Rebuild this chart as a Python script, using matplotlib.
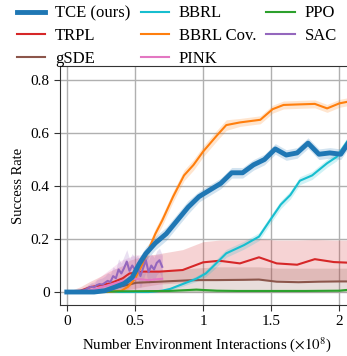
import matplotlib
matplotlib.use("Agg")
import matplotlib.pyplot as plt
import numpy as np

# fonts: Times-like text
plt.rcParams["font.family"] = ["Liberation Serif", "DejaVu Serif"]
plt.rcParams["mathtext.fontset"] = "stix"

# TCE (ours)
tce_x = [0, 0.1, 0.2, 0.28, 0.35, 0.42, 0.48, 0.53, 0.58, 0.65, 0.73, 0.81, 0.89, 0.97,
	1.05, 1.13, 1.21, 1.29, 1.37, 1.45, 1.53, 1.61, 1.69, 1.77, 1.85, 1.93, 2.01, 2.09]
tce_y = [0, 0, 0, 0.005, 0.018, 0.032, 0.055, 0.105, 0.145, 0.185, 0.22, 0.27, 0.32, 0.36,
	0.385, 0.41, 0.45, 0.45, 0.48, 0.50, 0.54, 0.517, 0.525, 0.562, 0.52, 0.525, 0.52, 0.58]
tce_err = [0, 0, 0, 0.005, 0.01, 0.015, 0.02, 0.025, 0.025, 0.025, 0.025, 0.025, 0.025, 0.02,
	0.02, 0.02, 0.02, 0.02, 0.02, 0.02, 0.02, 0.02, 0.02, 0.02, 0.02, 0.02, 0.02, 0.02]

# TRPL
trpl_x = [0, 0.1, 0.17, 0.25, 0.32, 0.41, 0.46, 0.56, 0.68, 0.85, 1.0, 1.12, 1.27, 1.41,
	1.54, 1.69, 1.82, 1.96, 2.1]
trpl_y = [0, 0.005, 0.018, 0.026, 0.033, 0.052, 0.07, 0.077, 0.077, 0.083, 0.112, 0.118,
	0.108, 0.131, 0.108, 0.103, 0.124, 0.113, 0.11]
trpl_lo = [0, 0, 0, 0, 0, 0.005, 0.01, 0.02, 0.03, 0.035, 0.045, 0.045, 0.045, 0.05,
	0.045, 0.045, 0.045, 0.045, 0.045]
trpl_hi = [0, 0.02, 0.04, 0.06, 0.08, 0.1, 0.12, 0.135, 0.145, 0.16, 0.19, 0.196, 0.196,
	0.2, 0.196, 0.196, 0.198, 0.196, 0.196]

# gSDE
gsde_x = [0, 0.1, 0.22, 0.3, 0.39, 0.51, 0.68, 0.93, 1.1, 1.3, 1.41, 1.54, 1.7, 1.85, 2.0, 2.1]
gsde_y = [0, 0, 0.003, 0.01, 0.02, 0.035, 0.039, 0.045, 0.045, 0.046, 0.047, 0.039, 0.037,
	0.039, 0.04, 0.04]
gsde_lo = [0, 0, 0, 0, 0, 0, 0, 0, 0, 0, 0, 0, 0, 0, 0, 0]
gsde_hi = [0, 0, 0.01, 0.03, 0.05, 0.07, 0.08, 0.09, 0.095, 0.095, 0.095, 0.09, 0.09,
	0.09, 0.09, 0.09]

# BBRL
bbrl_x = [0, 0.2, 0.4, 0.6, 0.7, 0.76, 0.85, 0.95, 1.02, 1.08, 1.17, 1.3, 1.41, 1.49, 1.57,
	1.64, 1.71, 1.8, 1.91, 1.98, 2.06, 2.1]
bbrl_y = [0, 0, 0, 0, 0.005, 0.012, 0.03, 0.05, 0.07, 0.1, 0.146, 0.177, 0.209, 0.27, 0.33,
	0.366, 0.42, 0.44, 0.486, 0.51, 0.57, 0.59]
bbrl_err = [0, 0, 0, 0, 0.003, 0.005, 0.008, 0.01, 0.012, 0.015, 0.015, 0.015, 0.015, 0.015,
	0.015, 0.015, 0.015, 0.015, 0.015, 0.015, 0.015, 0.015]

# BBRL Cov.
cov_x = [0, 0.1, 0.2, 0.3, 0.4, 0.45, 0.5, 0.55, 0.6, 0.65, 0.7, 0.78, 0.86, 0.93, 1.0, 1.1,
	1.17, 1.27, 1.42, 1.51, 1.59, 1.7, 1.82, 1.91, 2.0, 2.1]
cov_y = [0, 0, 0, 0, 0.005, 0.02, 0.05, 0.1, 0.16, 0.22, 0.27, 0.36, 0.44, 0.48, 0.53, 0.59,
	0.63, 0.64, 0.65, 0.69, 0.706, 0.708, 0.71, 0.693, 0.712, 0.722]
cov_err = [0, 0, 0, 0, 0.003, 0.008, 0.01, 0.015, 0.02, 0.02, 0.02, 0.02, 0.02, 0.02, 0.02,
	0.02, 0.02, 0.015, 0.015, 0.015, 0.015, 0.015, 0.015, 0.015, 0.015, 0.015]

# PINK
pink_x = [0, 0.1, 0.2, 0.3, 0.4, 0.5, 0.6, 0.7]
pink_y = [0, 0.002, 0.01, 0.025, 0.04, 0.05, 0.045, 0.05]
pink_lo = [0, 0, 0, 0, 0, 0, 0, 0]
pink_hi = [0, 0.01, 0.04, 0.08, 0.12, 0.14, 0.14, 0.14]

# PPO
ppo_x = [0, 0.25, 0.5, 0.75, 0.95, 1.1, 1.25, 1.5, 1.75, 2.0, 2.1]
ppo_y = [0, 0.002, 0.003, 0.004, 0.009, 0.005, 0.004, 0.004, 0.004, 0.005, 0.01]
ppo_err = [0, 0.002, 0.003, 0.004, 0.006, 0.005, 0.004, 0.004, 0.004, 0.004, 0.005]

# SAC
sac_x = [0.00, 0.02, 0.04, 0.06, 0.08, 0.10, 0.12, 0.14, 0.16, 0.18, 0.20, 0.22, 0.24, 0.26,
	0.28, 0.30, 0.32, 0.34, 0.36, 0.38, 0.40, 0.42, 0.44, 0.46, 0.48, 0.50, 0.52, 0.54,
	0.56, 0.58, 0.60, 0.62, 0.64, 0.66, 0.68, 0.70]
sac_y = [0, 0, 0, 0.001, 0.002, 0.004, 0.006, 0.01, 0.016, 0.02, 0.018, 0.026, 0.03, 0.028,
	0.035, 0.042, 0.038, 0.06, 0.052, 0.085, 0.07, 0.09, 0.115, 0.08, 0.1, 0.085, 0.095,
	0.06, 0.09, 0.12, 0.075, 0.1, 0.085, 0.11, 0.12, 0.095]
sac_err = [0, 0, 0, 0.002, 0.003, 0.005, 0.007, 0.01, 0.012, 0.015, 0.015, 0.02, 0.02, 0.025,
	0.025, 0.03, 0.03, 0.035, 0.035, 0.04, 0.04, 0.045, 0.045, 0.045, 0.045, 0.045, 0.045,
	0.045, 0.045, 0.045, 0.045, 0.045, 0.045, 0.045, 0.045, 0.045]

fig = plt.figure(figsize=(3.47, 3.56), dpi=100)
ax = fig.add_axes([60 / 347, 51 / 356, 293 / 347, 239 / 356])

def band(x, lo, hi, color):
	ax.fill_between(x, lo, hi, color=color, alpha=0.2, lw=0)

def sym(x, y, e):
	y = np.array(y)
	e = np.array(e)
	return (y - e, y + e)

# bands
band(trpl_x, trpl_lo, trpl_hi, "tab:red")
band(gsde_x, gsde_lo, gsde_hi, "tab:brown")
band(pink_x, pink_lo, pink_hi, "tab:pink")
band(ppo_x, *sym(ppo_x, ppo_y, ppo_err), "tab:green")
band(bbrl_x, *sym(bbrl_x, bbrl_y, bbrl_err), "tab:cyan")
band(cov_x, *sym(cov_x, cov_y, cov_err), "tab:orange")
band(sac_x, *sym(sac_x, sac_y, sac_err), "tab:purple")
band(tce_x, *sym(tce_x, tce_y, tce_err), "tab:blue")

# lines (legend order)
lines = {}
lines["TRPL"] = ax.plot(trpl_x, trpl_y, color="tab:red", lw=1.5)[0]
lines["gSDE"] = ax.plot(gsde_x, gsde_y, color="tab:brown", lw=1.5)[0]
lines["BBRL"] = ax.plot(bbrl_x, bbrl_y, color="tab:cyan", lw=1.5)[0]
lines["BBRL Cov."] = ax.plot(cov_x, cov_y, color="tab:orange", lw=1.5)[0]
lines["PINK"] = ax.plot(pink_x, pink_y, color="tab:pink", lw=1.5)[0]
lines["PPO"] = ax.plot(ppo_x, ppo_y, color="tab:green", lw=1.5)[0]
lines["SAC"] = ax.plot(sac_x, sac_y, color="tab:purple", lw=1.5)[0]
lines["TCE (ours)"] = ax.plot(tce_x, tce_y, color="tab:blue", lw=3.5)[0]

order = ["TCE (ours)", "TRPL", "gSDE", "BBRL", "BBRL Cov.", "PINK", "PPO", "SAC"]
fig.legend([lines[k] for k in order], order, loc="upper center",
	bbox_to_anchor=(0.51, 1.027), ncol=3, frameon=False, fontsize=12,
	handlelength=1.7, columnspacing=0.6, labelspacing=0.4, handletextpad=0.6)

ax.set_xlim(-0.05, 2.1)
ax.set_ylim(-0.049, 0.853)
ax.set_xticks([0, 0.5, 1, 1.5, 2])
ax.set_xticklabels(["0", "0.5", "1", "1.5", "2"])
ax.set_yticks([0, 0.2, 0.4, 0.6, 0.8])
ax.set_yticklabels(["0", "0.2", "0.4", "0.6", "0.8"])
ax.tick_params(labelsize=11, direction="out", length=4, color="#333333")
ax.grid(True, color="#b0b0b0", lw=1)
ax.set_axisbelow(True)
for s in ax.spines.values():
	s.set_color("#333333")

ax.set_xlabel(r"Number Environment Interactions ($\times 10^8$)", fontsize=10.7, labelpad=5)
ax.set_ylabel("Success Rate", fontsize=10.5)

plt.savefig("out.png", dpi=100)
